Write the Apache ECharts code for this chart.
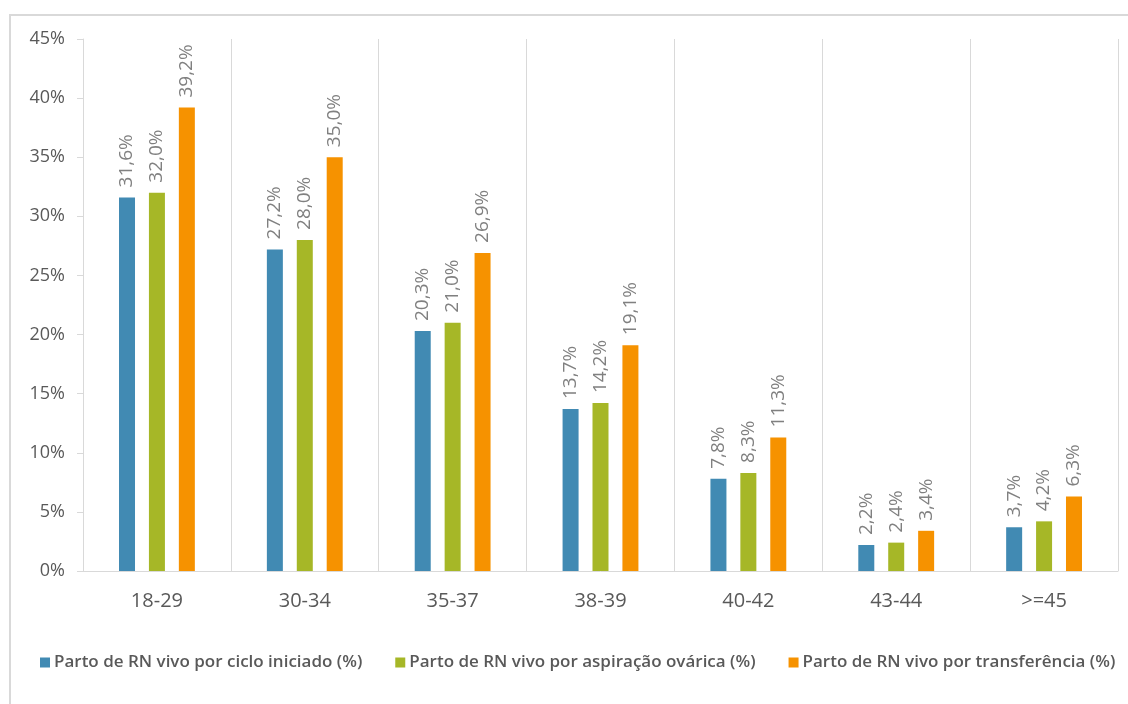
<!DOCTYPE html>
<html><head><meta charset="utf-8">
<script src="https://cdn.jsdelivr.net/npm/echarts@6/dist/echarts.min.js"></script>
<style>html,body{margin:0;padding:0;background:#fff}#c{width:1128px;height:704px}</style>
</head><body><div id="c"></div>
<script>
const categories = ['18-29','30-34','35-37','38-39','40-42','43-44','>=45'];
const seriesNames = ['Parto de RN vivo por ciclo iniciado (%)','Parto de RN vivo por aspiração ovárica (%)','Parto de RN vivo por transferência (%)'];
const cicloIniciado = [31.6, 27.2, 20.3, 13.7, 7.8, 2.2, 3.7];
const aspiracaoOvarica = [32.0, 28.0, 21.0, 14.2, 8.3, 2.4, 4.2];
const transferencia = [39.2, 35.0, 26.9, 19.1, 11.3, 3.4, 6.3];
const yTicks = [0,5,10,15,20,25,30,35,40,45];
const colors = ['#418AB3','#A6B727','#F69200'];
const FONT = 'Open Sans';

const chart = echarts.init(document.getElementById('c'));
const mk = (name, data, i) => ({
  name, type:'bar', data, barWidth:16, barGap:'87%',
  itemStyle:{color:colors[i]},
  label:{show:true, position:'top', rotate:90, align:'left', verticalAlign:'middle', distance:10,
    color:'#808080', fontFamily:FONT, fontSize:19,
    formatter:p=>p.value.toFixed(1).replace('.',',')+'%'}
});
chart.setOption({
  animation:false,
  textStyle:{fontFamily:FONT},
  graphic:[{type:'rect', shape:{x:10,y:15,width:1130,height:700}, style:{fill:'none', stroke:'#d9d9d9', lineWidth:2}, silent:true}],
  grid:{left:83, right:10, top:39, bottom:133},
  legend:{top:649, left:35, itemWidth:10, itemHeight:10, itemGap:33, icon:'rect',
    textStyle:{color:'#595959', fontSize:17, fontWeight:600, fontFamily:FONT, padding:[0,0,0,-1]}},
  xAxis:{type:'category', data:categories,
    axisLine:{lineStyle:{color:'#d9d9d9'}}, axisTick:{show:false},
    splitLine:{show:true, lineStyle:{color:'#d9d9d9'}},
    axisLabel:{color:'#595959', fontSize:20, margin:20, fontFamily:FONT}},
  yAxis:{type:'value', min:0, max:45, interval:5,
    axisLine:{show:true, lineStyle:{color:'#d9d9d9'}},
    axisTick:{show:true, length:6, lineStyle:{color:'#d9d9d9'}},
    splitLine:{show:false},
    axisLabel:{color:'#595959', fontSize:18, margin:18, fontFamily:FONT, formatter:v=>v+'%'}},
  series:[mk(seriesNames[0],cicloIniciado,0), mk(seriesNames[1],aspiracaoOvarica,1), mk(seriesNames[2],transferencia,2)]
});
</script></body></html>
